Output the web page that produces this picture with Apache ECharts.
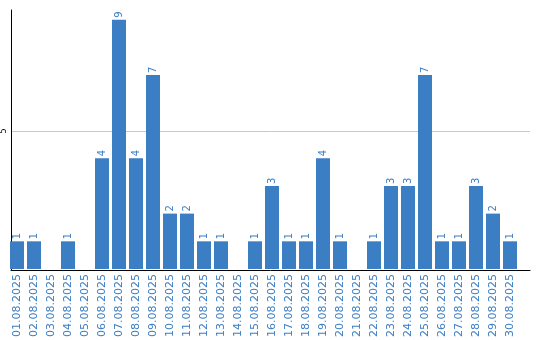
<!DOCTYPE html>
<html>
<head>
<meta charset="utf-8">
<script src="https://cdn.jsdelivr.net/npm/echarts@6/dist/echarts.min.js"></script>
<style>html,body{margin:0;padding:0;background:#fff}#c{width:540px;height:340px}</style>
</head>
<body>
<div id="c"></div>
<script>
var categories = ['01.08.2025','02.08.2025','03.08.2025','04.08.2025','05.08.2025','06.08.2025','07.08.2025','08.08.2025','09.08.2025','10.08.2025','11.08.2025','12.08.2025','13.08.2025','14.08.2025','15.08.2025','16.08.2025','17.08.2025','18.08.2025','19.08.2025','20.08.2025','21.08.2025','22.08.2025','23.08.2025','24.08.2025','25.08.2025','26.08.2025','27.08.2025','28.08.2025','29.08.2025','30.08.2025'];
var values = [1,1,0,1,0,4,9,4,7,2,2,1,1,0,1,3,1,1,4,1,0,1,3,3,7,1,1,3,2,1];
var yMax = 9.35;
var yInterval = 5;
var blue = '#3b7ec4';
var chart = echarts.init(document.getElementById('c'));
chart.setOption({
  animation: false,
  grid: [
    {left: 8.5, top: 10, width: 510, height: 260},
    {left: 10, top: 10, width: 520, height: 260}
  ],
  xAxis: [
    {
      type: 'category', gridIndex: 0, data: categories,
      axisLine: {show: false}, axisTick: {show: false},
      axisLabel: {rotate: 90, interval: 0, margin: 5, color: blue, fontSize: 11, fontFamily: 'DejaVu Sans'}
    },
    {
      type: 'value', gridIndex: 1, min: 0, max: 1,
      axisLine: {show: true, onZero: false, lineStyle: {color: '#000', width: 1}},
      axisTick: {show: false}, axisLabel: {show: false}, splitLine: {show: false}
    }
  ],
  yAxis: [
    {type: 'value', gridIndex: 0, min: 0, max: yMax, interval: yInterval, show: false},
    {
      type: 'value', gridIndex: 1, min: 0, max: yMax, interval: yInterval,
      axisLine: {show: true, lineStyle: {color: '#000', width: 1}},
      axisTick: {show: false},
      axisLabel: {showMinLabel: false, showMaxLabel: false, rotate: 90, margin: 3, color: '#000', fontSize: 8, fontFamily: 'DejaVu Sans'},
      splitLine: {show: true, showMinLine: false, showMaxLine: false, lineStyle: {color: '#c8c8c8', width: 1}}
    }
  ],
  series: [{
    type: 'bar', xAxisIndex: 0, yAxisIndex: 0, data: values,
    barWidth: 14,
    itemStyle: {color: blue},
    label: {
      show: true, position: 'top', rotate: 90, distance: 2,
      align: 'left', verticalAlign: 'middle',
      color: blue, fontSize: 10, fontFamily: 'DejaVu Sans',
      formatter: function (p) { return p.value ? String(p.value) : ''; }
    }
  }]
});
</script>
</body>
</html>
